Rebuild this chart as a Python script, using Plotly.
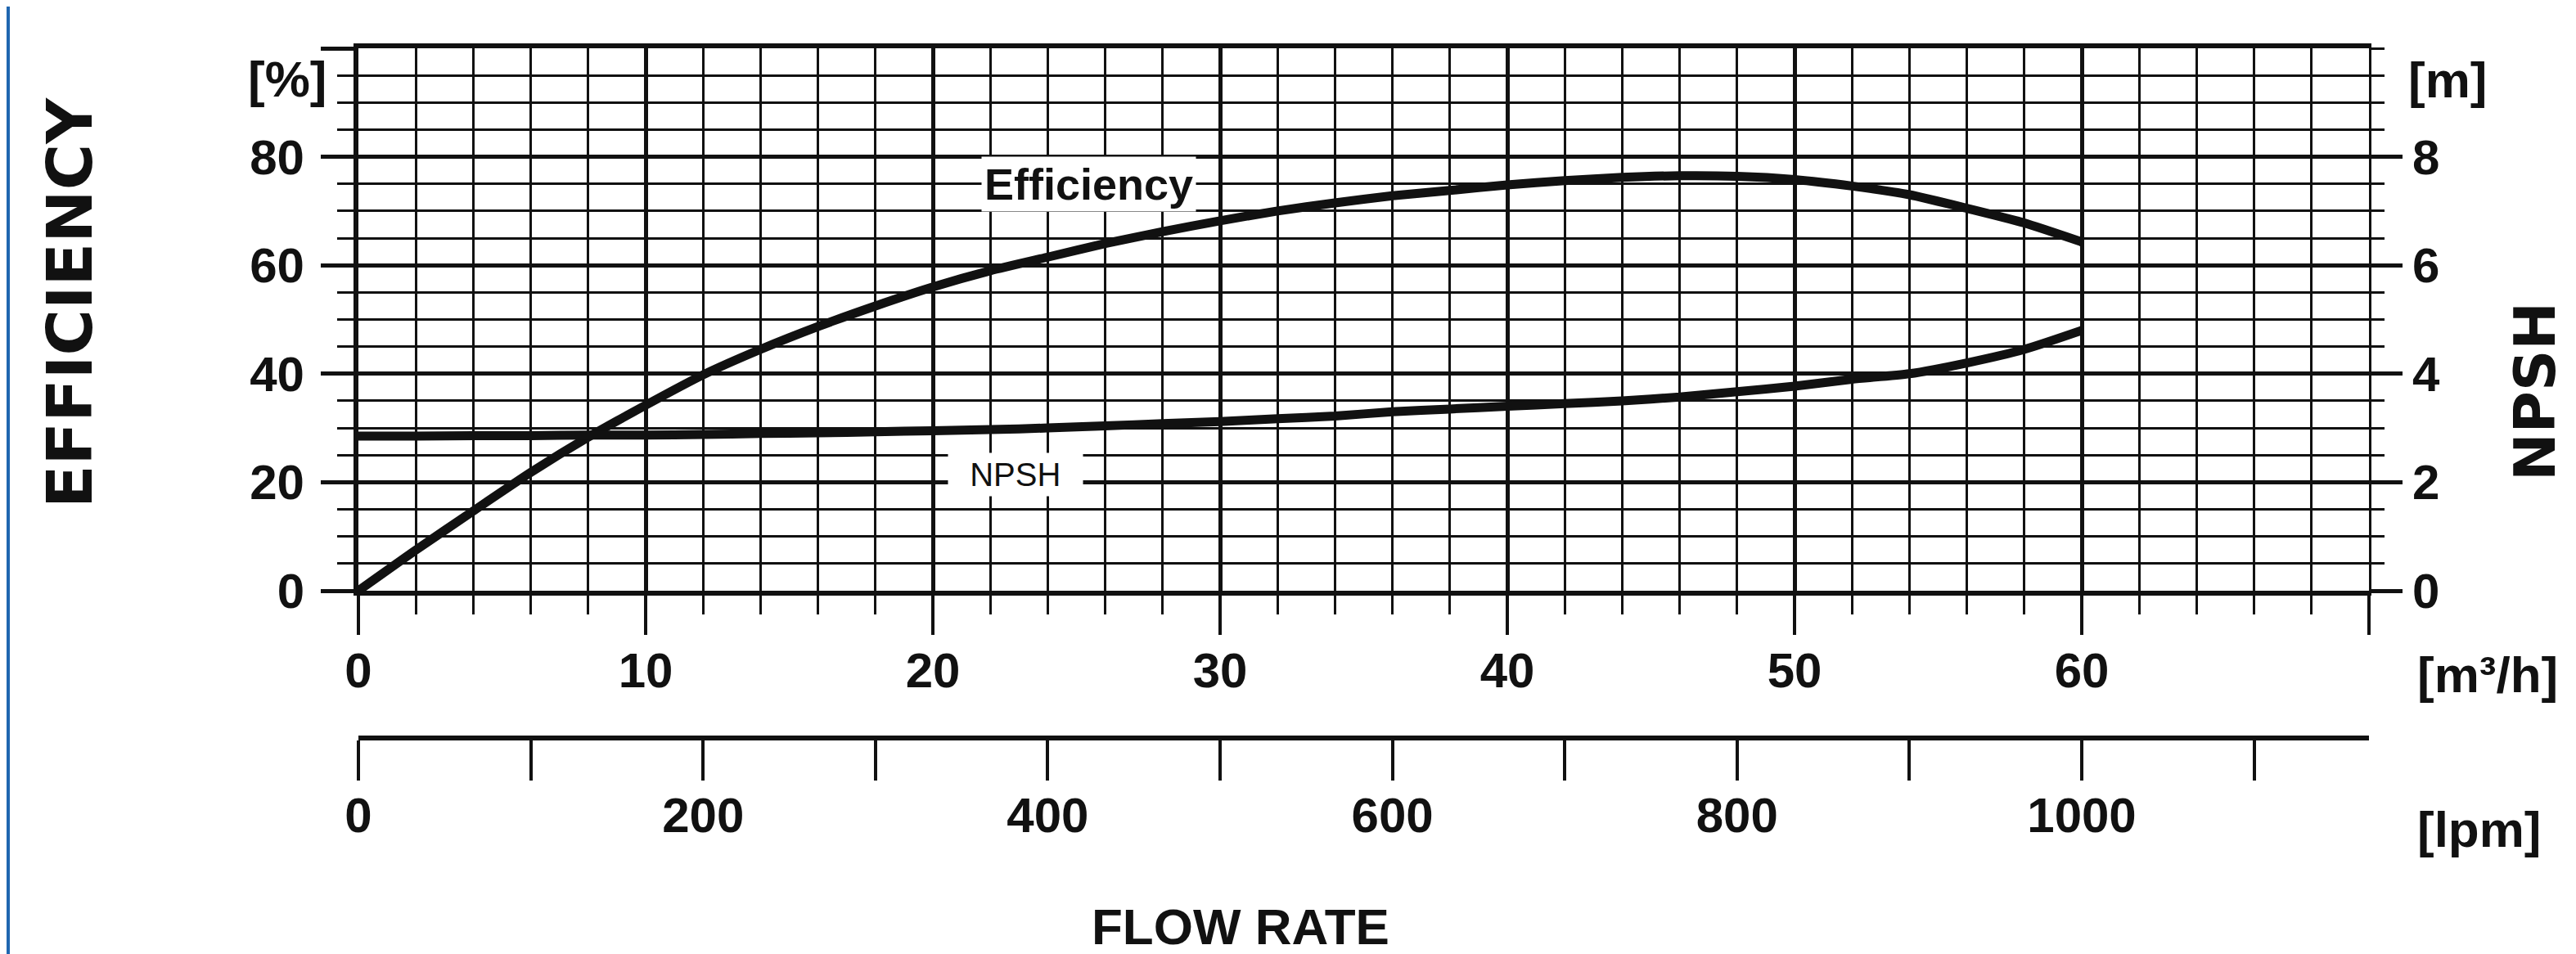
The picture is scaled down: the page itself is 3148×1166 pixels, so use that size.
import plotly.graph_objects as go

# ---------------- data ----------------
flow_m3h = [0, 2, 4, 6, 8, 10, 12, 14, 16, 18, 20, 22, 24, 26, 28, 30,
            32, 34, 36, 38, 40, 42, 44, 46, 48, 50, 52, 54, 56, 58, 60]
efficiency_pct = [0, 7.5, 14.7, 21.8, 28.3, 34.2, 39.8, 44.5, 48.7, 52.5, 56,
                  59, 61.5, 64, 66.2, 68.2, 70, 71.5, 72.8, 73.8, 74.8, 75.6,
                  76.2, 76.5, 76.4, 75.8, 74.6, 73, 70.5, 67.8, 64.3]
npsh_m = [2.85, 2.85, 2.86, 2.86, 2.87, 2.87, 2.88, 2.9, 2.91, 2.93, 2.95,
          2.97, 3.0, 3.04, 3.08, 3.12, 3.17, 3.22, 3.3, 3.35, 3.4, 3.45,
          3.5, 3.57, 3.67, 3.77, 3.9, 4.0, 4.2, 4.45, 4.8]

m3h_ticks = [0, 10, 20, 30, 40, 50, 60, 70]
m3h_labels = ["0", "10", "20", "30", "40", "50", "60", ""]
eff_ticks = [0, 20, 40, 60, 80, 100]
eff_labels = ["0", "20", "40", "60", "80", ""]
npsh_ticks = [0, 2, 4, 6, 8]
npsh_labels = ["0", "2", "4", "6", "8"]
lpm_ticks = [0, 100, 200, 300, 400, 500, 600, 700, 800, 900, 1000, 1100]
lpm_labels = ["0", "", "200", "", "400", "", "600", "", "800", "", "1000", ""]

X_MAX_M3H = 70
LPM_PER_M3H = 1000 / 60
flow_lpm = [v * LPM_PER_M3H for v in flow_m3h]

# ---------------- layout geometry ----------------
W, H = 3148, 1166
L, R, T, PB = 430, 2887, 51, 1016   # plot-paper box in pixels


def px(x):
    return (x - L) / (R - L)


def py(y):
    return (PB - y) / (PB - T)


INK = "#111111"
SANS = "Liberation Sans, Arial, sans-serif"
WIDE = "DejaVu Sans, Liberation Sans, sans-serif"
tick_font = dict(family=SANS, size=60, color=INK, weight=700)

fig = go.Figure()
fig.add_trace(go.Scatter(x=flow_m3h, y=efficiency_pct, mode="lines",
                         line=dict(color=INK, width=11, shape="spline", smoothing=0.6),
                         name="Efficiency", hoverinfo="skip"))
fig.add_trace(go.Scatter(x=flow_m3h, y=npsh_m, mode="lines", yaxis="y2",
                         line=dict(color=INK, width=11, shape="spline", smoothing=0.6),
                         name="NPSH", hoverinfo="skip"))
# same efficiency curve expressed in lpm, invisible: it only carries the lpm scale
fig.add_trace(go.Scatter(x=flow_lpm, y=efficiency_pct, mode="lines", xaxis="x2",
                         line=dict(color="rgba(0,0,0,0)", width=0),
                         name="Efficiency (lpm)", hoverinfo="skip", showlegend=False))

fig.update_layout(
    width=W, height=H,
    margin=dict(l=L, r=W - R, t=T, b=H - PB, pad=0),
    paper_bgcolor="white", plot_bgcolor="white",
    showlegend=False,
    xaxis=dict(
        range=[0, X_MAX_M3H], domain=[0, 1], anchor="y",
        tickmode="array", tickvals=m3h_ticks, ticktext=m3h_labels,
        ticks="outside", ticklen=48, tickwidth=4, tickcolor=INK,
        showgrid=True, gridcolor=INK, gridwidth=5,
        showline=True, linecolor=INK, linewidth=6, mirror=True,
        zeroline=False, tickfont=tick_font, ticklabelstandoff=-8,
        minor=dict(dtick=2, tick0=0, ticks="outside", ticklen=23, tickwidth=3,
                   tickcolor=INK, showgrid=True, gridcolor=INK, gridwidth=3),
    ),
    xaxis2=dict(
        range=[0, X_MAX_M3H * LPM_PER_M3H], overlaying="x", anchor="free",
        position=py(894), side="bottom",
        tickmode="array", tickvals=lpm_ticks, ticktext=lpm_labels,
        ticks="outside", ticklen=49, tickwidth=4, tickcolor=INK,
        showgrid=False, zeroline=False,
        showline=True, linecolor=INK, linewidth=6,
        tickfont=tick_font, ticklabelstandoff=-9,
    ),
    yaxis=dict(
        range=[0, 100], domain=[py(714), 1], anchor="x",
        tickmode="array", tickvals=eff_ticks, ticktext=eff_labels,
        ticks="outside", ticklen=40, tickwidth=5, tickcolor=INK,
        showgrid=True, gridcolor=INK, gridwidth=5,
        showline=True, linecolor=INK, linewidth=6,
        zeroline=False, tickfont=tick_font, ticklabelstandoff=8,
        minor=dict(dtick=5, tick0=0, ticks="outside", ticklen=20, tickwidth=3,
                   tickcolor=INK, showgrid=True, gridcolor=INK, gridwidth=3),
    ),
    yaxis2=dict(
        range=[0, 10], overlaying="y", side="right", anchor="x",
        tickmode="array", tickvals=npsh_ticks, ticktext=npsh_labels,
        ticks="outside", ticklen=38, tickwidth=5, tickcolor=INK,
        showgrid=False, zeroline=False,
        showline=True, linecolor=INK, linewidth=3,
        tickfont=tick_font, ticklabelstandoff=0,
        minor=dict(dtick=0.5, tick0=0, ticks="outside", ticklen=16, tickwidth=3,
                   tickcolor=INK, showgrid=False),
    ),
)

unit_font = dict(family=SANS, size=62, color=INK, weight=700)
ann = []
ann.append(dict(text="[%]", x=px(393), y=py(88), xanchor="right", yanchor="middle",
                font=unit_font))
ann.append(dict(text="[m]", x=px(2933), y=py(90), xanchor="left", yanchor="middle",
                font=unit_font))
ann.append(dict(text="[m³/h]", x=px(2944), y=py(816), xanchor="left", yanchor="middle",
                font=unit_font))
ann.append(dict(text="[lpm]", x=px(2944), y=py(1005), xanchor="left", yanchor="middle",
                font=unit_font))
ann.append(dict(text="FLOW RATE", x=px(1508), y=py(1124), xanchor="center",
                yanchor="middle", font=dict(family=SANS, size=62, color=INK, weight=700)))
ann.append(dict(text="EFFICIENCY", x=px(78), y=py(362), xanchor="center",
                yanchor="middle", textangle=-90,
                font=dict(family=WIDE, size=77, color=INK, weight=700)))
ann.append(dict(text="NPSH", x=px(3090), y=py(471), xanchor="center",
                yanchor="middle", textangle=-90,
                font=dict(family=WIDE, size=70, color=INK, weight=700)))
ann.append(dict(text="Efficiency", x=px(1322), y=py(217), xanchor="center",
                yanchor="middle", bgcolor="white", borderpad=3,
                font=dict(family=SANS, size=54, color=INK, weight=700)))
ann.append(dict(text="  NPSH  ", x=px(1233), y=py(572), xanchor="center",
                yanchor="middle", bgcolor="white", borderpad=4,
                font=dict(family=SANS, size=40, color=INK, weight=400)))
for a in ann:
    a.update(xref="paper", yref="paper", showarrow=False)
fig.update_layout(annotations=ann)

# thin blue page border at the left edge (decoration of the scanned sheet)
fig.add_shape(type="line", xref="paper", yref="paper",
              x0=px(2), x1=px(2), y0=py(0), y1=py(H),
              line=dict(color="#1f66b0", width=4))

fig.write_html("out.html")
